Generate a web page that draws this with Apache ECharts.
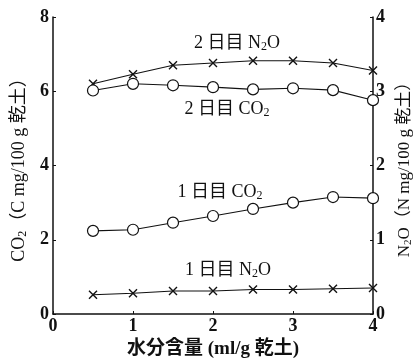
<!DOCTYPE html>
<html>
<head>
<meta charset="utf-8">
<script src="https://cdn.jsdelivr.net/npm/echarts@6/dist/echarts.min.js"></script>
<style>
  html, body { margin: 0; padding: 0; background: #fff; }
  #chart { width: 418px; height: 364px; }
</style>
</head>
<body>
<div id="chart"></div>
<script>
// 水分含量 (ml/g 乾土)
const water = [0.5, 1, 1.5, 2, 2.5, 3, 3.5, 4];
// CO2 (C mg/100 g 乾土) -- left axis
const co2Day2 = [6.02, 6.20, 6.16, 6.11, 6.05, 6.08, 6.03, 5.76];
const co2Day1 = [2.24, 2.27, 2.46, 2.64, 2.83, 3.00, 3.15, 3.12];
// N2O (N mg/100 g 乾土) -- right axis
const n2oDay2 = [3.10, 3.23, 3.35, 3.38, 3.41, 3.41, 3.38, 3.28];
const n2oDay1 = [0.26, 0.28, 0.31, 0.31, 0.33, 0.33, 0.34, 0.35];

const leftTicks = [0, 2, 4, 6, 8];
const rightTicks = [0, 1, 2, 3, 4];
const xTicks = [0, 1, 2, 3, 4];

const serif = '"Liberation Serif", "Noto Sans CJK JP", serif';
const crossPath = 'path://M0,0L10,10M10,0L0,10';

function pairs(ys) {
  return water.map((x, i) => [x, ys[i]]);
}

// rich-text style with a small lowered "2"
function subRich(size) {
  return {
    s: { fontFamily: serif, fontSize: Math.round(size * 0.65), color: '#111', padding: [Math.round(size * 0.45), 0, 0, 0] },
  };
}

function makeSeries(name, ys, axis, isCircle) {
  return {
    name: name,
    type: 'line',
    yAxisIndex: axis,
    data: pairs(ys),
    symbol: isCircle ? 'circle' : crossPath,
    symbolSize: isCircle ? 11 : 8,
    lineStyle: { color: '#111', width: 1.1 },
    itemStyle: isCircle
      ? { color: '#fff', borderColor: '#111', borderWidth: 1.2 }
      : { color: 'none', borderColor: '#111', borderWidth: 1.4 },
    z: isCircle ? 3 : 2,
  };
}

const chart = echarts.init(document.getElementById('chart'));

const axisCommon = {
  axisLine: { show: true, lineStyle: { color: '#111', width: 1.5 } },
  axisTick: { show: true, inside: true, length: 3, lineStyle: { color: '#111' } },
  splitLine: { show: false },
  axisLabel: { color: '#111', fontFamily: serif, fontSize: 18, fontWeight: 'bold' },
};

// in-plot series labels, centred on (x, y)
const inLabel = (text, x, y) => ({
  type: 'text',
  x: x,
  y: y,
  style: {
    text: text,
    fill: '#111',
    fontFamily: serif,
    fontSize: 18,
    align: 'center',
    verticalAlign: 'middle',
    rich: subRich(18),
  },
});

const option = {
  animation: false,
  grid: { left: 53, right: 45, top: 17, bottom: 50, outerBoundsMode: 'none' },
  xAxis: {
    type: 'value',
    min: 0, max: 4, interval: 1,
    name: '水分含量 (ml/g 乾土)',
    nameLocation: 'middle',
    nameGap: 25,
    ...axisCommon,
    axisLabel: { ...axisCommon.axisLabel, margin: 3, formatter: v => xTicks.includes(v) ? String(v) : '' },
    nameTextStyle: { color: '#111', fontFamily: serif, fontSize: 19, fontWeight: 'bold' },
  },
  yAxis: [
    {
      type: 'value',
      position: 'left',
      min: 0, max: 8, interval: 2,
      name: 'CO{s|2}（C mg/100 g 乾土）',
      nameLocation: 'middle',
      nameGap: 24,
      nameRotate: 90,
      ...axisCommon,
      axisLabel: { ...axisCommon.axisLabel, margin: 4, formatter: v => leftTicks.includes(v) ? String(v) : '' },
      nameTextStyle: { color: '#111', fontFamily: serif, fontSize: 18, rich: subRich(18) },
    },
    {
      type: 'value',
      position: 'right',
      min: 0, max: 4, interval: 1,
      name: 'N{s|2}O（N mg/100 g 乾土）',
      nameLocation: 'middle',
      nameGap: 22,
      nameRotate: 90,
      ...axisCommon,
      axisLabel: { ...axisCommon.axisLabel, margin: 3, formatter: v => rightTicks.includes(v) ? String(v) : '' },
      nameTextStyle: { color: '#111', fontFamily: serif, fontSize: 17, rich: subRich(17) },
    },
  ],
  series: [
    makeSeries('2日目 N2O', n2oDay2, 1, false),
    makeSeries('2日目 CO2', co2Day2, 0, true),
    makeSeries('1日目 CO2', co2Day1, 0, true),
    makeSeries('1日目 N2O', n2oDay1, 1, false),
  ],
  graphic: [
    inLabel('2 日目 N{s|2}O', 237, 43),
    inLabel('2 日目 CO{s|2}', 227, 109),
    inLabel('1 日目 CO{s|2}', 220, 192),
    inLabel('1 日目 N{s|2}O', 228, 270),
  ],
};

chart.setOption(option);
</script>
</body>
</html>
